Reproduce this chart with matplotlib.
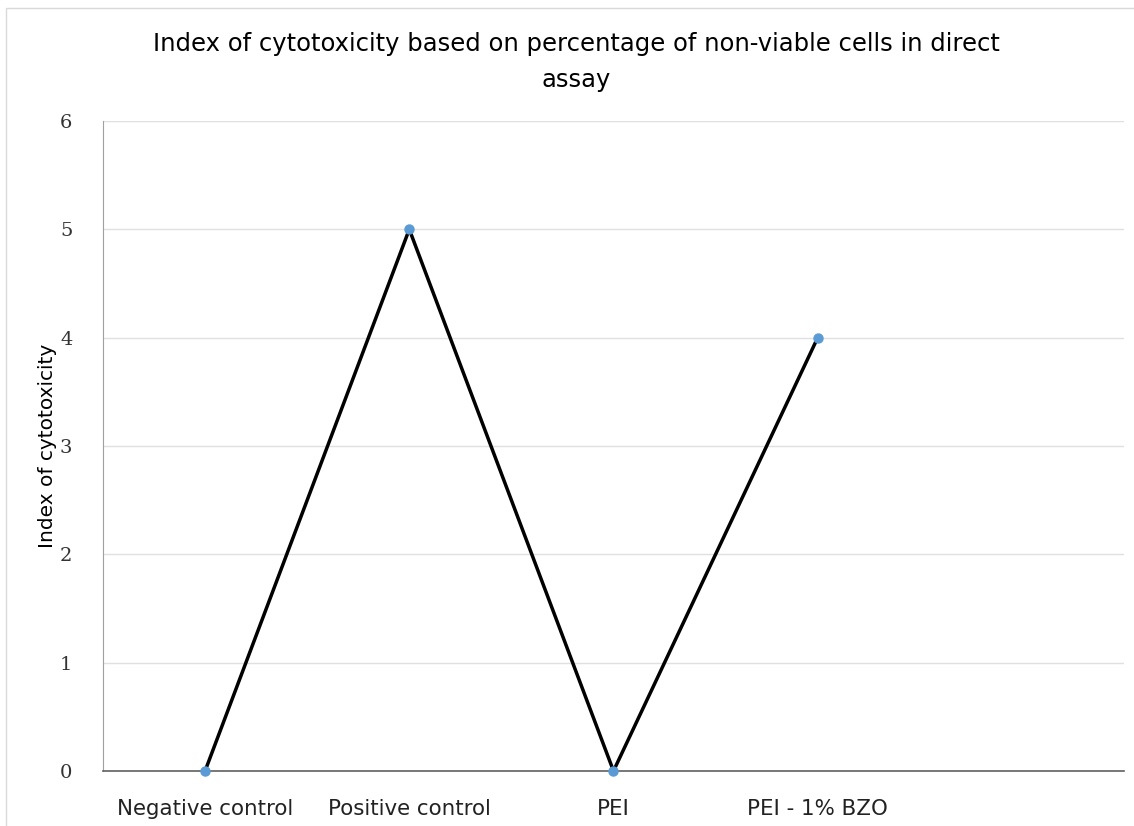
import matplotlib.pyplot as plt
import numpy as np
from matplotlib.patches import Rectangle

categories = ["Negative control", "Positive control", "PEI", "PEI - 1% BZO"]
index_values = [0, 5, 0, 4]
y_ticks = [0, 1, 2, 3, 4, 5, 6]
n_slots = 5  # l'axe garde une place vide à droite

plt.rcParams['font.family'] = ['DejaVu Sans']

fig = plt.figure(figsize=(11.34, 8.26), dpi=100)
ax = fig.add_axes([0.0908, 0.0666, 0.9004, 0.7869])

# cadre gris autour du graphique
fig.patches.append(Rectangle((0.005, -0.01), 1.2, 1.0, transform=fig.transFigure,
                             fill=False, edgecolor='#d9d9d9', linewidth=1))

x = np.arange(len(categories))
ax.plot(x, index_values, color='black', linewidth=2.5, zorder=3)
ax.plot(x, index_values, 'o', color='#5b9bd5', markersize=6.5, zorder=4, clip_on=False)

ax.set_xlim(-0.5, n_slots - 0.5)
ax.set_ylim(0, 6)
ax.set_yticks(y_ticks)
ax.set_xticks(x)
ax.set_xticklabels(categories, fontsize=15.4, color='#222222')
ax.tick_params(axis='both', length=0)
ax.tick_params(axis='x', pad=20)
ax.tick_params(axis='y', pad=22, labelsize=14)
for lab in ax.get_yticklabels():
    lab.set_fontfamily('DejaVu Serif')
    lab.set_color('#333333')

ax.grid(axis='y', color='#e0e0e0', linewidth=1)
ax.set_axisbelow(True)
for s in ['top', 'right']:
    ax.spines[s].set_visible(False)
ax.spines['left'].set_color('#a0a0a0')
ax.spines['bottom'].set_color('#606060')
ax.spines['bottom'].set_linewidth(1.2)

ax.set_ylabel("Index of cytotoxicity", fontsize=14.5, labelpad=2)
fig.text(0.508, 0.925, "Index of cytotoxicity based on percentage of non-viable cells in direct\nassay",
         ha='center', va='center', fontsize=17.5, linespacing=1.6)

fig.savefig("out.png", dpi=100)
